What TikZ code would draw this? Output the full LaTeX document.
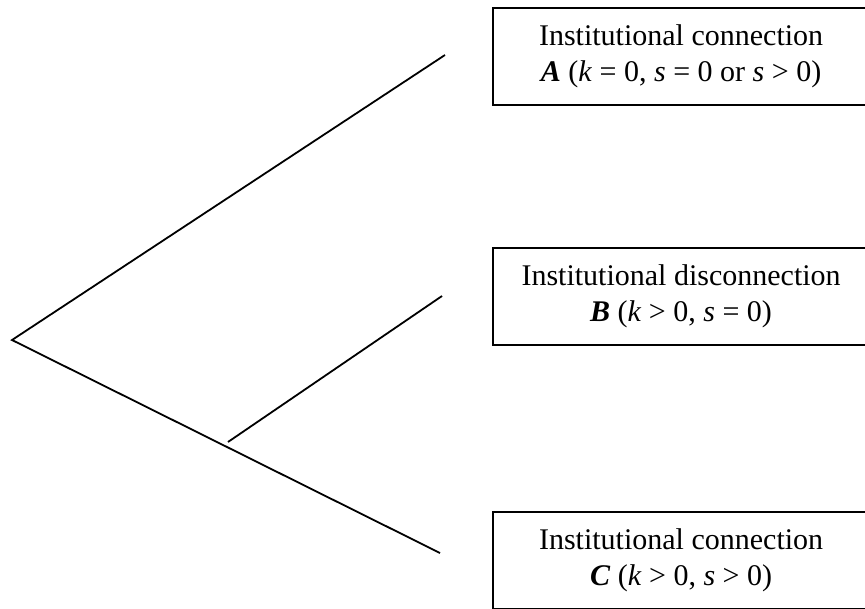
\documentclass[tikz,border=0pt]{standalone}
\usepackage{fontspec}
\setmainfont{Liberation Serif}
\begin{document}
\begin{tikzpicture}[x=1pt,y=-1pt,
  outcome/.style={draw=black,line width=2.2pt,rectangle,minimum width=376pt,minimum height=97pt,
    inner sep=0pt,align=center,font=\fontsize{30}{36}\selectfont,anchor=north west},
  branchline/.style={line width=1.8pt,line cap=butt}]
\useasboundingbox (0,0) rectangle (865,608);
\node[outcome] (A) at (492,7) {Institutional connection\\\textbf{\textit{A}} (\textit{k} = 0, \textit{s} = 0 or \textit{s} > 0)};
\node[outcome] (B) at (492,247) {Institutional disconnection\\\textbf{\textit{B}} (\textit{k} > 0, \textit{s} = 0)};
\node[outcome] (C) at (492,511) {Institutional connection\\\textbf{\textit{C}} (\textit{k} > 0, \textit{s} > 0)};
\coordinate (root) at (12,340);
\coordinate (endA) at (445,55);
\coordinate (endC) at (440,553);
\coordinate (fork) at (228,442);
\coordinate (endB) at (442,296);
\draw[branchline] (endA) -- (root) -- (endC);
\draw[branchline] (fork) -- (endB);
\end{tikzpicture}
\end{document}
